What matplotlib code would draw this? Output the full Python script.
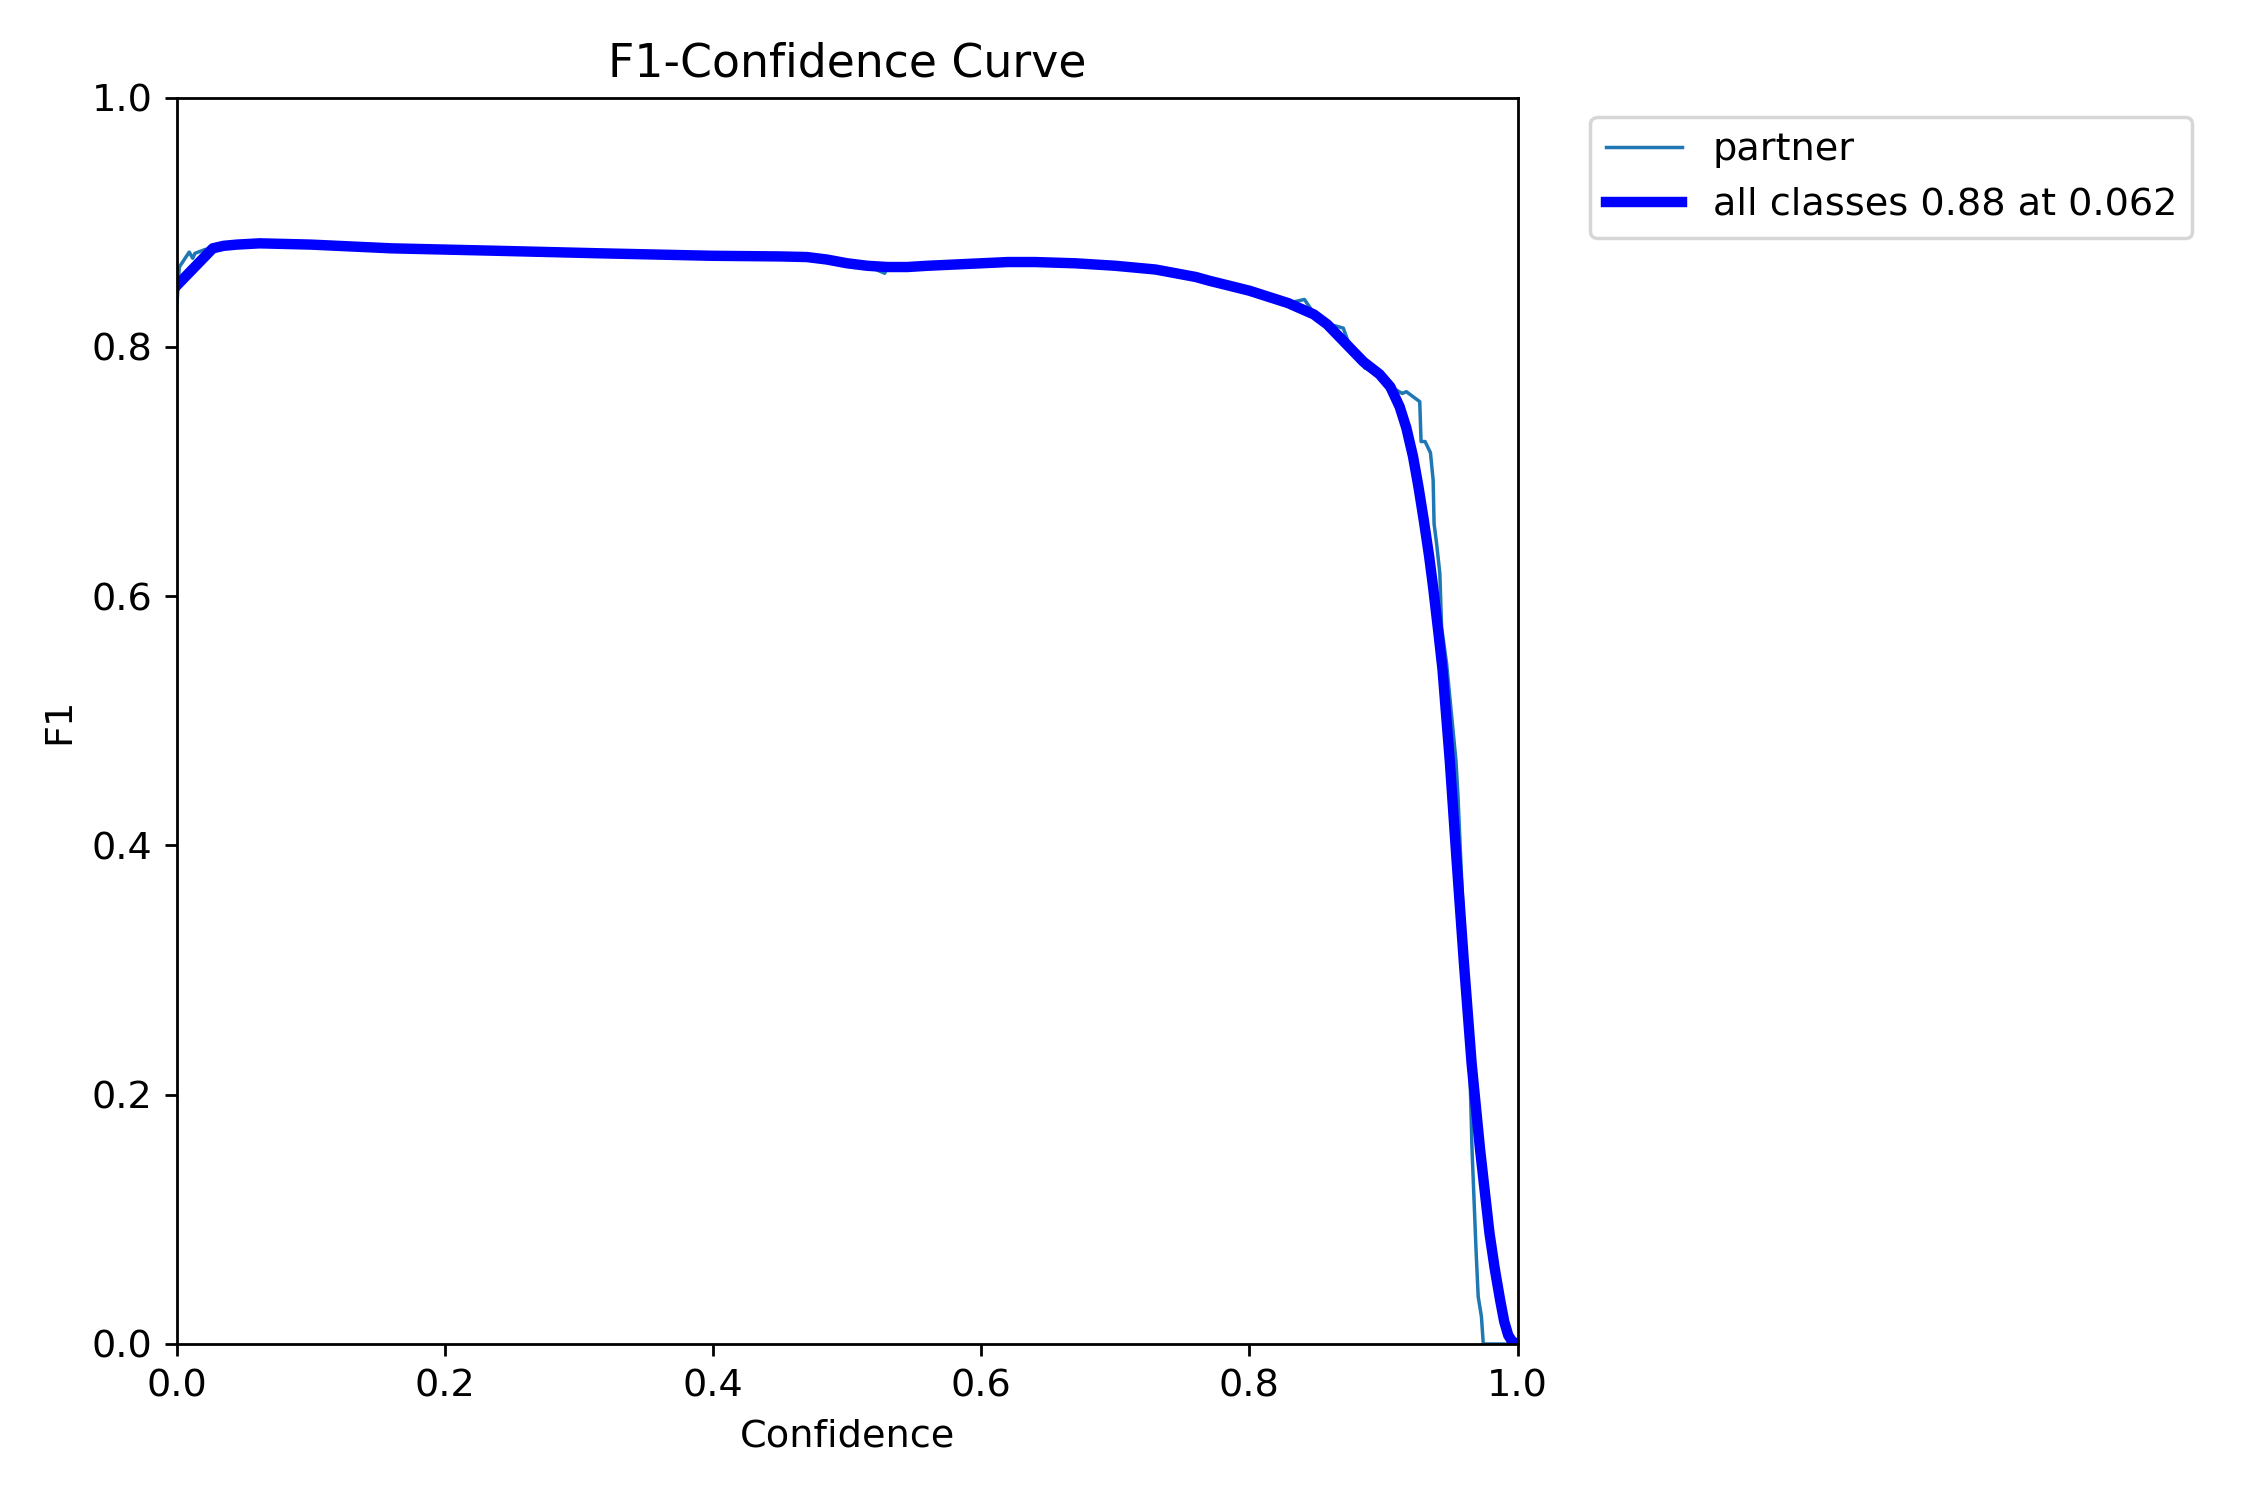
import matplotlib
matplotlib.use("Agg")
import matplotlib.pyplot as plt

plt.rcParams["font.size"] = 11

# per-class curve (raw)
partner_conf = [0.0, 0.002, 0.0094, 0.012, 0.0137, 0.021, 0.027, 0.045, 0.062, 0.1, 0.16,
                0.24, 0.316, 0.4, 0.45, 0.47, 0.485, 0.50, 0.515, 0.528, 0.53, 0.545,
                0.56, 0.58, 0.60, 0.62, 0.64, 0.67, 0.70, 0.73, 0.76, 0.77, 0.80, 0.829,
                0.841, 0.848, 0.860, 0.870, 0.875, 0.886, 0.897, 0.905, 0.914, 0.917,
                0.927, 0.928, 0.931, 0.935, 0.937, 0.9377, 0.9396, 0.942, 0.9433, 0.947,
                0.954, 0.9555, 0.960, 0.964, 0.966, 0.969, 0.9706, 0.973, 0.9744, 1.0]
partner_f1 = [0.830, 0.864, 0.876, 0.871, 0.875, 0.878, 0.879, 0.882, 0.883, 0.882, 0.879,
              0.877, 0.875, 0.873, 0.8725, 0.872, 0.870, 0.867, 0.865, 0.859, 0.864, 0.864,
              0.865, 0.866, 0.867, 0.868, 0.868, 0.867, 0.865, 0.862, 0.856, 0.853, 0.845,
              0.835, 0.838, 0.827, 0.818, 0.815, 0.800, 0.783, 0.779, 0.768, 0.7626,
              0.764, 0.756, 0.724, 0.724, 0.715, 0.693, 0.658, 0.642, 0.618, 0.575,
              0.546, 0.468, 0.440, 0.330, 0.236, 0.156, 0.075, 0.038, 0.022, 0.0, 0.0]

# mean over classes (smoothed)
all_conf = [0.0, 0.027, 0.035, 0.045, 0.062, 0.1, 0.16, 0.24, 0.316, 0.4, 0.45, 0.47,
            0.485, 0.50, 0.515, 0.53, 0.545, 0.56, 0.58, 0.60, 0.62, 0.64, 0.67, 0.70,
            0.73, 0.76, 0.77, 0.80, 0.829, 0.848, 0.858, 0.867, 0.876, 0.885, 0.897,
            0.905, 0.912, 0.917, 0.922, 0.926, 0.930, 0.934, 0.937, 0.941, 0.944,
            0.9494, 0.9545, 0.960, 0.9657, 0.972, 0.979, 0.983, 0.987, 0.990, 0.993,
            0.996, 1.0]
all_f1 = [0.849, 0.879, 0.881, 0.882, 0.883, 0.882, 0.879, 0.877, 0.875, 0.873, 0.8725,
          0.872, 0.870, 0.867, 0.865, 0.864, 0.864, 0.865, 0.866, 0.867, 0.868, 0.868,
          0.867, 0.865, 0.862, 0.856, 0.853, 0.845, 0.835, 0.826, 0.818, 0.808, 0.798,
          0.788, 0.778, 0.768, 0.752, 0.735, 0.712, 0.688, 0.661, 0.632, 0.607, 0.570,
          0.541, 0.468, 0.388, 0.305, 0.225, 0.156, 0.089, 0.060, 0.035, 0.018, 0.007,
          0.002, 0.0]

best_f1 = 0.88
best_conf = 0.062

fig = plt.figure(figsize=(9, 6))
ax = fig.add_axes([0.0785, 0.104, 0.596, 0.831])
ax.plot(partner_conf, partner_f1, linewidth=1, label="partner")
ax.plot(all_conf, all_f1, linewidth=3, color="blue",
        label=f"all classes {best_f1:.2f} at {best_conf:.3f}")
ax.set_xlabel("Confidence")
ax.set_ylabel("F1")
ax.set_xlim(0, 1)
ax.set_ylim(0, 1)
ax.legend(bbox_to_anchor=(1.04, 1), loc="upper left")
ax.set_title("F1-Confidence Curve")
fig.savefig("out.png", dpi=250)
